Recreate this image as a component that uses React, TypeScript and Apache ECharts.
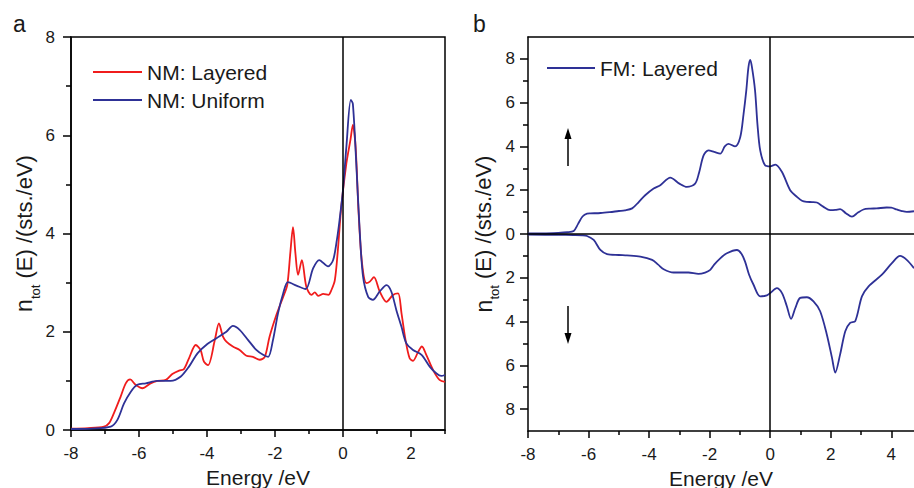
import React, { useEffect, useRef } from "react";
import * as echarts from "echarts";

// ---------- Panel a: NM total DOS ----------
const nmLayeredE = [-8, -7.5, -7.03, -6.88, -6.74, -6.54, -6.39, -6.26, -6.1, -5.9, -5.66, -5.46, -5.21, -5.02, -4.82, -4.68, -4.53, -4.33, -4.19, -4.09, -3.97, -3.77, -3.65, -3.53, -3.43, -3.24, -3.04, -2.84, -2.65, -2.45, -2.3, -2.16, -1.96, -1.76, -1.64, -1.55, -1.47, -1.4, -1.32, -1.21, -1.08, -0.93, -0.83, -0.73, -0.58, -0.43, -0.34, -0.24, -0.15, -0.05, 0.1, 0.22, 0.29, 0.37, 0.46, 0.56, 0.69, 0.79, 0.91, 1.08, 1.28, 1.47, 1.62, 1.72, 1.84, 1.96, 2.06, 2.21, 2.32, 2.45, 2.65, 2.84, 3.0];
const nmLayeredN = [0.03, 0.04, 0.07, 0.14, 0.34, 0.68, 0.95, 1.03, 0.92, 0.85, 0.95, 1.0, 1.02, 1.14, 1.21, 1.24, 1.46, 1.73, 1.63, 1.39, 1.32, 1.83, 2.17, 1.9, 1.8, 1.7, 1.63, 1.51, 1.49, 1.43, 1.49, 1.9, 2.34, 2.71, 2.95, 3.6, 4.13, 3.6, 3.16, 3.46, 2.92, 2.75, 2.8, 2.73, 2.77, 2.75, 2.85, 3.05, 3.67, 4.55, 5.43, 5.91, 6.21, 5.77, 4.41, 3.39, 2.99, 3.02, 3.11, 2.82, 2.61, 2.75, 2.78, 2.38, 1.83, 1.46, 1.41, 1.59, 1.7, 1.53, 1.22, 1.02, 0.98];

const nmUniformE = [-8, -7.4, -6.83, -6.64, -6.44, -6.24, -6.05, -5.8, -5.46, -5.07, -4.77, -4.53, -4.28, -3.99, -3.72, -3.43, -3.24, -3.04, -2.79, -2.55, -2.35, -2.2, -2.06, -1.91, -1.76, -1.62, -1.37, -1.1, -0.88, -0.7, -0.44, -0.29, -0.18, -0.1, 0, 0.1, 0.23, 0.29, 0.39, 0.49, 0.59, 0.74, 0.88, 1.08, 1.28, 1.42, 1.57, 1.72, 1.86, 2.06, 2.31, 2.55, 2.75, 2.89, 3.0];
const nmUniformN = [0.02, 0.03, 0.07, 0.2, 0.54, 0.78, 0.92, 0.95, 1.0, 1.0, 1.09, 1.29, 1.56, 1.75, 1.87, 2.0, 2.12, 2.04, 1.83, 1.63, 1.53, 1.49, 1.83, 2.38, 2.78, 3.01, 2.94, 2.87, 3.29, 3.46, 3.33, 3.46, 3.87, 4.28, 4.89, 5.77, 6.72, 6.64, 5.43, 4.07, 3.12, 2.71, 2.65, 2.82, 2.95, 2.82, 2.44, 2.1, 1.77, 1.63, 1.53, 1.29, 1.15, 1.1, 1.12];

// ---------- Panel b: FM layered, spin up / spin down ----------
const fmUpE = [-8, -7.5, -7, -6.7, -6.49, -6.35, -6.2, -6.05, -5.94, -5.6, -5.3, -5.0, -4.8, -4.56, -4.35, -4.13, -3.85, -3.63, -3.3, -3.0, -2.75, -2.48, -2.35, -2.2, -2.04, -1.85, -1.65, -1.5, -1.38, -1.16, -0.99, -0.88, -0.79, -0.72, -0.66, -0.6, -0.5, -0.42, -0.33, -0.17, 0, 0.17, 0.39, 0.66, 0.88, 1.05, 1.21, 1.38, 1.54, 1.75, 1.98, 2.15, 2.31, 2.5, 2.7, 2.9, 3.08, 3.3, 3.52, 3.85, 4.0, 4.18, 4.35, 4.51, 4.75];
const fmUpN = [0.03, 0.03, 0.05, 0.08, 0.14, 0.45, 0.8, 0.93, 0.94, 0.96, 1.0, 1.05, 1.08, 1.17, 1.45, 1.77, 2.08, 2.23, 2.58, 2.3, 2.15, 2.3, 2.8, 3.59, 3.82, 3.75, 3.67, 4.0, 4.12, 4.0, 4.42, 5.48, 6.55, 7.6, 7.95, 7.6, 6.55, 5.0, 3.82, 3.14, 3.09, 3.17, 2.83, 2.0, 1.7, 1.52, 1.47, 1.46, 1.44, 1.25, 1.09, 1.1, 1.14, 0.95, 0.79, 0.98, 1.12, 1.16, 1.17, 1.21, 1.2, 1.12, 1.05, 1.01, 1.04];

const fmDownE = [-8, -7, -6.5, -6.2, -6.05, -5.83, -5.61, -5.39, -5.0, -4.73, -4.29, -3.9, -3.7, -3.52, -3.19, -2.7, -2.37, -2.15, -1.98, -1.85, -1.65, -1.43, -1.1, -0.95, -0.83, -0.7, -0.55, -0.33, -0.11, 0, 0.22, 0.39, 0.55, 0.69, 0.83, 0.99, 1.21, 1.43, 1.65, 1.87, 2.04, 2.15, 2.31, 2.48, 2.64, 2.81, 3.03, 3.25, 3.69, 4.02, 4.29, 4.51, 4.75];
const fmDownN = [-0.03, -0.04, -0.05, -0.06, -0.09, -0.27, -0.73, -0.92, -0.96, -0.98, -1.03, -1.18, -1.4, -1.61, -1.76, -1.76, -1.82, -1.76, -1.64, -1.4, -1.11, -0.88, -0.73, -0.9, -1.26, -1.85, -2.32, -2.85, -2.8, -2.7, -2.47, -2.7, -3.3, -3.88, -3.38, -2.92, -2.89, -3.08, -3.53, -4.59, -5.65, -6.33, -5.5, -4.44, -4.06, -3.98, -2.85, -2.39, -1.86, -1.33, -1.0, -1.18, -1.56];

// ---------- Ticks ----------
const aXMajor = [-8, -6, -4, -2, 0, 2];
const aXMinor = [-7, -5, -3, -1, 1, 3];
const aYMajor = [0, 2, 4, 6, 8];
const aYMinor = [1, 3, 5, 7];
const bXMajor = [-8, -6, -4, -2, 0, 2, 4];
const bXMinor = [-7, -5, -3, -1, 1, 3];
const bYMajor = [-8, -6, -4, -2, 0, 2, 4, 6, 8];
const bYMinor = [-7, -5, -3, -1, 1, 3, 5, 7];

const RED = "#f01c1c";
const BLUE = "#2e3196";
const FONT = "'Liberation Sans', Arial, Helvetica, sans-serif";
const TXT = "#1a1a1a";

const pairs = (xs: number[], ys: number[]) => xs.map((x, i) => [x, ys[i]]);

const yName = "{n|n}{s|tot}{r| (E) /(sts./eV)}";
const yRich = {
  n: { fontSize: 23, fontFamily: FONT, color: TXT },
  s: { fontSize: 13, fontFamily: FONT, color: TXT, padding: [22, 0, 0, 0] },
  r: { fontSize: 22, fontFamily: FONT, color: TXT },
};

function majorX(grid: number, min: number, max: number, major: number[], nameGap: number) {
  return {
    type: "value", gridIndex: grid, min, max, interval: 1, position: "bottom",
    axisLine: { onZero: false, lineStyle: { color: "#000", width: 1.5 } },
    axisTick: { customValues: major, length: 7, lineStyle: { color: "#000", width: 1.5 } },
    axisLabel: { customValues: major, fontSize: 17, fontFamily: FONT, color: TXT, margin: 15 },
    splitLine: { show: false },
    name: "Energy /eV", nameLocation: "middle", nameGap,
    nameTextStyle: { fontSize: 21, fontFamily: FONT, color: TXT, lineHeight: 22 },
  };
}
function minorX(grid: number, min: number, max: number, minor: number[]) {
  return {
    type: "value", gridIndex: grid, min, max, interval: 1, position: "bottom",
    axisLine: { show: false, onZero: false },
    axisTick: { customValues: minor, length: 4, lineStyle: { color: "#000", width: 1.5 } },
    axisLabel: { show: false },
    splitLine: { show: false },
  };
}

export default function App() {
  const ref = useRef<HTMLDivElement>(null);
  useEffect(() => {
    if (!ref.current) return;
    const chart = echarts.init(ref.current, null, { renderer: "svg" });
    const zeroLine = { type: "solid", color: "#000", width: 1.5 };
    const legendText = { fontSize: 21, fontFamily: FONT, color: TXT, lineHeight: 22 };
    chart.setOption({
      animation: false,
      backgroundColor: "#fff",
      title: [
        { text: "a", left: 13, top: 12, padding: 0, textStyle: { fontSize: 23, fontWeight: "normal", fontFamily: FONT, color: TXT } },
        { text: "b", left: 473, top: 12, padding: 0, textStyle: { fontSize: 23, fontWeight: "normal", fontFamily: FONT, color: TXT } },
      ],
      grid: [
        { left: 71, top: 37, width: 374, height: 393, outerBoundsMode: "none", containLabel: false, show: true, borderColor: "#000", borderWidth: 1.5, backgroundColor: "transparent" },
        { left: 528, top: 37, width: 386, height: 394, outerBoundsMode: "none", containLabel: false, show: false },
      ],
      legend: [
        {
          left: 93, top: 61, orient: "vertical", padding: 0, icon: "rect", itemWidth: 49, itemHeight: 2, itemGap: 6,
          data: ["NM: Layered", "NM: Uniform"], textStyle: legendText, selectedMode: false,
        },
        {
          left: 547, top: 57, orient: "vertical", padding: 0, icon: "rect", itemWidth: 48, itemHeight: 2,
          data: ["FM: Layered"], textStyle: legendText, selectedMode: false,
        },
      ],
      xAxis: [
        majorX(0, -8, 3, aXMajor, 30),
        minorX(0, -8, 3, aXMinor),
        majorX(1, -8, 4.75, bXMajor, 29),
        minorX(1, -8, 4.75, bXMinor),
        {
          type: "value", gridIndex: 1, min: -8, max: 4.75, position: "top",
          axisLine: { onZero: false, lineStyle: { color: "#000", width: 1.5 } },
          axisTick: { show: false }, axisLabel: { show: false }, splitLine: { show: false },
        },
      ],
      yAxis: [
        {
          type: "value", gridIndex: 0, min: 0, max: 8, interval: 1,
          axisLine: { onZero: false, lineStyle: { color: "#000", width: 1.5 } },
          axisTick: { customValues: aYMajor, length: 8, lineStyle: { color: "#000", width: 1.5 } },
          axisLabel: { customValues: aYMajor, fontSize: 17, fontFamily: FONT, color: TXT, margin: 16 },
          splitLine: { show: false },
          name: yName, nameLocation: "middle", nameGap: 27,
          nameTextStyle: { rich: yRich },
        },
        {
          type: "value", gridIndex: 0, min: 0, max: 8, interval: 1, position: "left",
          axisLine: { show: false, onZero: false },
          axisTick: { customValues: aYMinor, length: 5, lineStyle: { color: "#000", width: 1.5 } },
          axisLabel: { show: false }, splitLine: { show: false },
        },
        {
          type: "value", gridIndex: 1, min: -9, max: 9, interval: 1,
          axisLine: { onZero: false, lineStyle: { color: "#000", width: 1.5 } },
          axisTick: { customValues: bYMajor, length: 8, lineStyle: { color: "#000", width: 1.5 } },
          axisLabel: { customValues: bYMajor, fontSize: 17, fontFamily: FONT, color: TXT, margin: 13, formatter: (v: number) => String(Math.abs(v)) },
          splitLine: { show: false },
          name: yName, nameLocation: "middle", nameGap: 27,
          nameTextStyle: { rich: yRich },
        },
        {
          type: "value", gridIndex: 1, min: -9, max: 9, interval: 1, position: "left",
          axisLine: { show: false, onZero: false },
          axisTick: { customValues: bYMinor, length: 5, lineStyle: { color: "#000", width: 1.5 } },
          axisLabel: { show: false }, splitLine: { show: false },
        },
      ],
      series: [
        {
          name: "NM: Layered", type: "line", xAxisIndex: 0, yAxisIndex: 0,
          data: pairs(nmLayeredE, nmLayeredN), showSymbol: false, symbol: "none", smooth: 0.3,
          lineStyle: { color: RED, width: 1.8 }, itemStyle: { color: RED }, emphasis: { disabled: true },
        },
        {
          name: "NM: Uniform", type: "line", xAxisIndex: 0, yAxisIndex: 0,
          data: pairs(nmUniformE, nmUniformN), showSymbol: false, symbol: "none", smooth: 0.3,
          lineStyle: { color: BLUE, width: 1.8 }, itemStyle: { color: BLUE }, emphasis: { disabled: true },
          markLine: { silent: true, symbol: ["none", "none"], label: { show: false }, lineStyle: zeroLine, data: [{ xAxis: 0 }] },
        },
        {
          name: "FM: Layered", type: "line", xAxisIndex: 2, yAxisIndex: 2,
          data: pairs(fmUpE, fmUpN), showSymbol: false, symbol: "none", smooth: 0.3,
          lineStyle: { color: BLUE, width: 1.8 }, itemStyle: { color: BLUE }, emphasis: { disabled: true },
          markLine: { silent: true, symbol: ["none", "none"], label: { show: false }, lineStyle: zeroLine, data: [{ xAxis: 0 }, { yAxis: 0 }] },
        },
        {
          name: "FM: Layered", type: "line", xAxisIndex: 2, yAxisIndex: 2,
          data: pairs(fmDownE, fmDownN), showSymbol: false, symbol: "none", smooth: 0.3,
          lineStyle: { color: BLUE, width: 1.8 }, itemStyle: { color: BLUE }, emphasis: { disabled: true },
        },
      ],
      graphic: [
        { type: "line", shape: { x1: 568, y1: 166, x2: 568, y2: 136 }, style: { stroke: "#000", lineWidth: 1.5 } },
        { type: "polygon", shape: { points: [[564.5, 139], [568, 128], [571.5, 139]] }, style: { fill: "#000" } },
        { type: "line", shape: { x1: 568, y1: 306, x2: 568, y2: 335 }, style: { stroke: "#000", lineWidth: 1.5 } },
        { type: "polygon", shape: { points: [[564.5, 333], [568, 344], [571.5, 333]] }, style: { fill: "#000" } },
      ],
    });
    return () => chart.dispose();
  }, []);
  return <div ref={ref} style={{ position: "absolute", left: 0, top: 0, width: 914, height: 488 }} />;
}
